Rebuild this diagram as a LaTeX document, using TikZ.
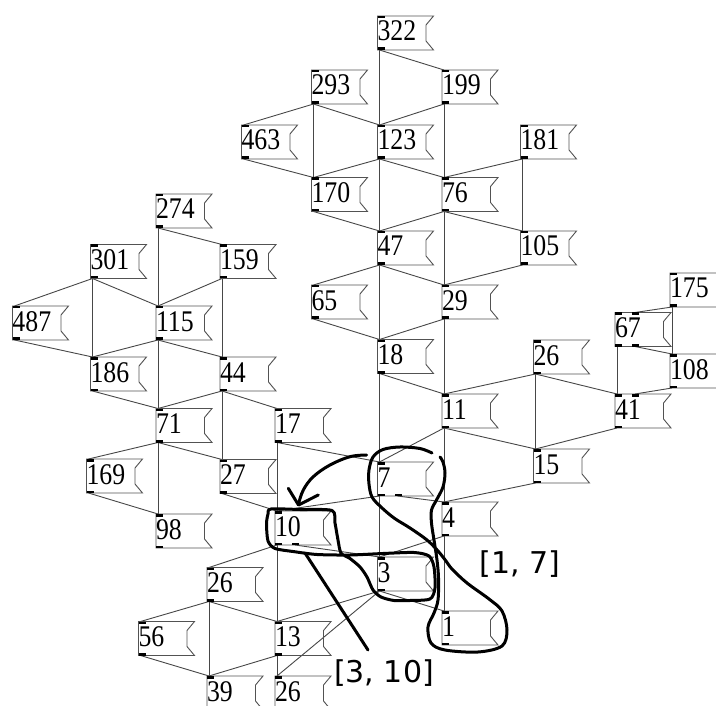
\documentclass[tikz,border=0pt]{standalone}
\usepackage{fontspec}
\newfontfamily\boxfont[FakeStretch=0.86]{Liberation Serif}
\newfontfamily\notefont{DejaVu Sans}
\begin{document}
\begin{tikzpicture}[x=1pt,y=-1pt,
  msg/.style={anchor=north west, inner sep=0pt, outer sep=0pt,
    minimum width=56pt, text height=25pt, text depth=9pt,
    font=\boxfont\fontsize{30}{30}\selectfont},
  wire/.style={draw=black!72, line width=0.9pt},
  boxedge/.style={draw=black!68, line width=0.9pt, line join=miter},
  port/.style={fill=black},
  ink/.style={draw=black, line width=3pt, line cap=round, line join=round},
  note/.style={inner sep=0pt, font=\notefont\fontsize{30}{30}\selectfont},
]
\useasboundingbox (0,0) rectangle (716,706);
\clip (0,0) rectangle (716,706);

% message boxes
\newcommand\mb[4]{\node[msg] (#1) at (#2,#3) {\makebox[56pt][l]{#4}};}
\mb{n322}{377.5}{16}{322}
\mb{n293}{311.5}{70}{293}
\mb{n199}{442}{70}{199}
\mb{n463}{241.5}{125}{463}
\mb{n123}{377.5}{125}{123}
\mb{n181}{520.5}{125}{181}
\mb{n170}{311.5}{177.5}{170}
\mb{n76}{442}{177.5}{76}
\mb{n47}{377.5}{231}{47}
\mb{n105}{520.5}{231}{105}
\mb{n65}{311.5}{285}{65}
\mb{n29}{442}{285}{29}
\mb{n18}{377.5}{339.5}{18}
\mb{n26r}{533.5}{340}{26}
\mb{n11}{442}{394}{11}
\mb{n41}{615}{394}{41}
\mb{n67}{615}{312.5}{67}
\mb{n175}{670}{273}{175}
\mb{n108}{670}{354}{108}
\mb{n15}{533.5}{449}{15}
\mb{n7}{377.5}{462}{7}
\mb{n4}{442}{502}{4}
\mb{n10}{275}{511}{10}
\mb{n3}{377.5}{557}{3}
\mb{n1}{442}{611}{1}
\mb{n26l}{207}{567.5}{26}
\mb{n56}{138.5}{621.5}{56}
\mb{n13}{275}{621.5}{13}
\mb{n39}{207}{676}{39}
\mb{n26b}{275}{676}{26}
\mb{n274}{156}{194}{274}
\mb{n301}{90.5}{244.5}{301}
\mb{n159}{220}{244.5}{159}
\mb{n487}{12.5}{306}{487}
\mb{n115}{156}{306}{115}
\mb{n186}{90.5}{357}{186}
\mb{n44}{220}{357}{44}
\mb{n71}{156}{408.5}{71}
\mb{n17}{275}{408.5}{17}
\mb{n169}{86.5}{459}{169}
\mb{n27}{220}{459.5}{27}
\mb{n98}{156}{514}{98}

% connections: outlet (bottom left) to inlet (top left)
\foreach \a/\b in {n322/n199, n322/n123, n293/n463, n293/n123, n293/n170,
  n199/n123, n199/n76, n463/n170, n123/n170, n123/n76, n123/n47,
  n181/n76, n181/n105, n170/n47, n76/n47, n76/n105, n76/n29,
  n47/n65, n47/n29, n47/n18, n105/n29, n65/n18, n29/n18, n29/n11,
  n18/n11, n18/n7, n26r/n11, n26r/n41, n26r/n15, n11/n7, n11/n15, n11/n4,
  n41/n15, n67/n41, n175/n108, n15/n4, n7/n3, n7/n10, n17/n7, n17/n10,
  n4/n3, n4/n1, n10/n26l, n10/n13, n3/n1, n3/n13, n3/n26b,
  n26l/n56, n26l/n13, n26l/n39, n56/n39, n13/n39, n13/n26b,
  n274/n159, n274/n115, n301/n487, n301/n115, n301/n186,
  n159/n115, n159/n44, n487/n186, n115/n186, n115/n44, n115/n71,
  n186/n71, n44/n71, n44/n17, n44/n27, n71/n169, n71/n27, n71/n98,
  n169/n98, n27/n10}
  {\draw[wire] ([xshift=2pt]\a.south west) -- ([xshift=2pt]\b.north west);}

% connections using the second outlet / inlet
\draw[wire] ([xshift=20pt]n7.south west) -- ([xshift=2pt]n4.north west);
\draw[wire] ([xshift=20pt]n10.south west) -- ([xshift=2pt]n3.north west);
\draw[wire] ([xshift=2pt]n175.south west) -- ([xshift=20pt]n67.north west);
\draw[wire] ([xshift=20pt]n67.south west) -- ([xshift=2pt]n108.north west);
\draw[wire] ([xshift=2pt]n108.south west) -- ([xshift=20pt]n41.north west);

% flag outlines and ports
\foreach \n in {n322,n293,n199,n463,n123,n181,n170,n76,n47,n105,n65,n29,
  n18,n26r,n11,n41,n67,n175,n108,n15,n7,n4,n10,n3,n1,n26l,n56,n13,n39,n26b,
  n274,n301,n159,n487,n115,n186,n44,n71,n17,n169,n27,n98}{
  \draw[boxedge] (\n.north west) -- (\n.north east)
    -- ([shift={(-7.5,9)}]\n.north east)
    -- ([shift={(-7.5,-9)}]\n.south east)
    -- (\n.south east) -- (\n.south west) -- cycle;
  \fill[port] (\n.north west) rectangle ++(7,2.5);
  \fill[port] (\n.south west) rectangle ++(7,-2.5);
}
\foreach \n in {n7,n10,n67}
  {\fill[port] ([xshift=17pt]\n.south west) rectangle ++(7,-2.5);}
\foreach \n in {n67,n41}
  {\fill[port] ([xshift=17pt]\n.north west) rectangle ++(7,2.5);}

% hand-drawn marks
\draw[ink] plot[smooth, tension=0.55] coordinates {
  (432,453) (420,448.5) (400,447) (383,449.5) (373,457) (369,470) (369,484)
  (372,497) (381,507) (394,518) (410,528) (427,540) (438,551) (446,561)
  (452,569) (467,583) (489,599) (502,611) (507,630) (502,646) (478,652)
  (445,650) (431,643) (428,627) (434,613) (438,600) (438.5,578) (437,560)
  (434,540) (431.5,523) (431.5,510) (436.5,500) (443,487) (445,473)
  (443,462) (440,457)};
\draw[ink] plot[smooth cycle, tension=0.45] coordinates {
  (271,509) (300,509.5) (332,510.5) (335,523) (338,540) (341,553)
  (350,558.5) (360,567) (367,577) (373,590) (381,597) (394,600.5)
  (410,600.5) (430,599) (435,588) (434,567) (429,556) (414,552.5)
  (383,553.5) (350,555) (317,554.5) (293,551.5) (275,548.5) (268,541)
  (266.5,524) (268,514)};
\draw[ink] plot[smooth, tension=0.6] coordinates {
  (366.7,455) (350,456.7) (330,465) (313.3,476.7) (303.3,490) (298.5,504)};
\draw[ink] (288.3,488.3) -- (298.5,505) -- (318.3,495);
\draw[ink] (305,553) -- (368,650);

\node[note] (lab17) at (520,564) {[1, 7]};
\node[note] (lab310) at (384,673.5) {[3, 10]};
\end{tikzpicture}
\end{document}
